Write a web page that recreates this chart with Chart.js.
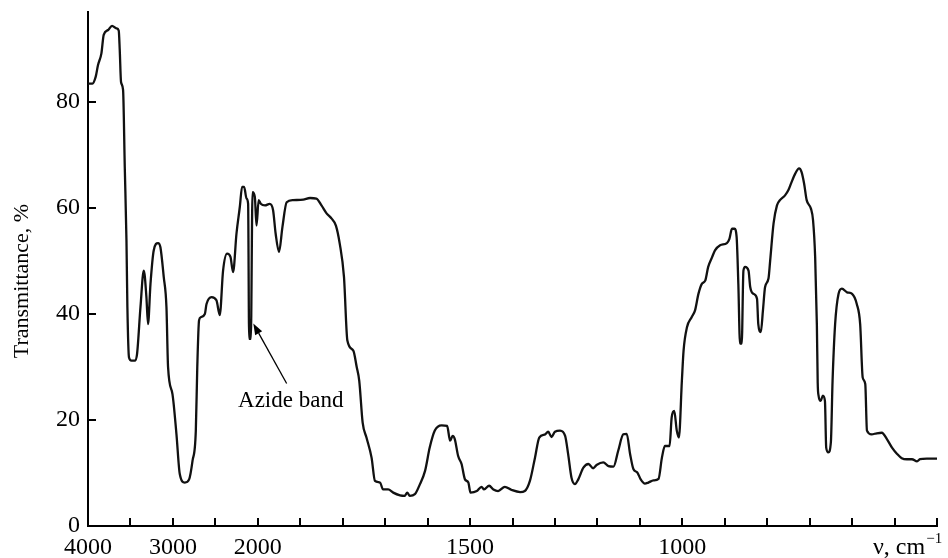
<!DOCTYPE html>
<html>
<head>
<meta charset="utf-8">
<script src="https://cdn.jsdelivr.net/npm/chart.js@4/dist/chart.umd.min.js"></script>
<style>
  html, body { margin: 0; padding: 0; background: #fff; }
  #wrap { width: 948px; height: 558px; }
</style>
</head>
<body>
<div id="wrap"><canvas id="c" width="948" height="558"></canvas></div>
<script>
// ---- Data ----
const WAVENUMBERS = [
  4000, 3948, 3909, 3882, 3842, 3815, 3764, 3717, 3665, 3638, 3626, 3611, 3587, 3567, 3547, 3536,
  3517, 3488, 3450, 3422, 3382, 3343, 3312, 3293, 3264, 3226, 3175, 3147, 3108, 3076, 3057, 3005,
  2958, 2919, 2860, 2809, 2769, 2730, 2713, 2692, 2672, 2624, 2604, 2545, 2487, 2448, 2409, 2362,
  2322, 2291, 2251, 2212, 2185, 2161, 2133, 2114, 2102, 2082, 2062, 2035, 2015, 1998, 1993, 1983,
  1972, 1964, 1958, 1950, 1942, 1932, 1917, 1893, 1877, 1862, 1850, 1838, 1826, 1816, 1807, 1797,
  1789, 1775, 1767, 1761, 1753, 1744, 1732, 1724, 1712, 1705, 1693, 1681, 1665, 1654, 1648, 1642,
  1630, 1618, 1606, 1595, 1583, 1567, 1554, 1547, 1541, 1536, 1528, 1520, 1512, 1504, 1499, 1484,
  1473, 1467, 1455, 1445, 1434, 1418, 1402, 1382, 1371, 1359, 1347, 1337, 1323, 1316, 1308, 1300,
  1288, 1276, 1269, 1261, 1253, 1245, 1233, 1221, 1210, 1202, 1186, 1174, 1162, 1151, 1139, 1131,
  1123, 1115, 1106, 1098, 1088, 1080, 1068, 1056, 1048, 1041, 1030, 1025, 1019, 1013, 1008, 1001,
  997, 989, 978, 970, 962, 954, 946, 939, 930, 923, 911, 895, 889, 883, 877, 872,
  868, 864, 860, 856, 852, 844, 840, 832, 824, 821, 815, 810, 805, 797, 793, 785,
  777, 770, 758, 750, 744, 734, 725, 719, 713, 707, 697, 692, 687, 683, 681, 679,
  674, 669, 664, 661, 656, 650, 646, 640, 632, 624, 612, 600, 589, 581, 575, 569,
  565, 554, 542, 530, 518, 506, 494, 483, 471, 459, 447, 440, 424, 400
];
const TRANSMITTANCE = [
  83.5, 83.5, 84.8, 87.0, 89.2, 92.7, 93.6, 94.4, 93.9, 93.5, 89.8, 83.8, 82.3, 67.8, 53.9, 41.3,
  31.8, 31.2, 31.2, 32.5, 41.3, 48.2, 43.2, 38.1, 45.7, 52.0, 53.4, 52.6, 47.0, 41.3, 30.0, 24.9,
  17.3, 9.8, 8.2, 8.8, 12.3, 18.0, 29.9, 38.8, 39.4, 40.0, 41.9, 43.2, 42.6, 39.8, 48.2, 51.4,
  50.8, 47.9, 55.2, 60.2, 64.0, 64.0, 61.8, 60.8, 35.3, 35.3, 63.0, 62.1, 56.7, 61.5, 60.8, 60.5,
  60.8, 59.6, 55.2, 51.7, 56.4, 61.1, 61.5, 61.6, 61.9, 61.8, 60.5, 59.0, 58.0, 56.7, 53.3, 47.0,
  35.0, 33.1, 30.0, 27.4, 19.5, 16.7, 12.9, 8.5, 8.2, 6.9, 6.9, 6.3, 5.8, 5.7, 6.3, 5.7,
  6.0, 7.9, 10.4, 14.8, 18.0, 19.0, 18.9, 16.1, 17.0, 16.4, 13.2, 11.7, 8.8, 8.2, 6.3, 6.6,
  7.4, 6.9, 7.6, 6.9, 6.6, 7.4, 6.8, 6.4, 6.6, 8.5, 12.9, 16.7, 17.3, 17.8, 16.8, 17.8,
  18.0, 17.0, 13.6, 9.1, 7.9, 8.8, 11.0, 11.7, 10.9, 11.5, 12.0, 11.3, 11.2, 14.2, 17.3, 17.4,
  13.6, 10.7, 10.1, 8.8, 8.0, 8.2, 8.6, 8.9, 12.9, 15.1, 15.1, 20.5, 21.7, 18.0, 16.7, 27.4,
  33.1, 37.5, 39.4, 40.7, 43.8, 45.7, 46.3, 48.9, 50.7, 52.0, 53.0, 53.4, 54.2, 56.1, 56.1, 54.5,
  45.7, 34.4, 34.4, 48.2, 48.9, 48.2, 45.1, 43.8, 42.9, 38.1, 36.6, 40.7, 45.1, 46.7, 50.1, 57.1,
  60.5, 61.5, 62.4, 63.4, 64.6, 66.5, 67.5, 66.8, 64.6, 61.5, 59.9, 57.7, 50.7, 38.0, 27.0, 24.6,
  23.6, 24.6, 23.6, 14.8, 13.9, 15.8, 27.4, 38.1, 43.8, 44.8, 44.1, 43.8, 41.9, 38.1, 28.0, 26.8,
  18.0, 17.3, 17.5, 17.6, 16.4, 14.8, 13.6, 12.8, 12.6, 12.6, 12.2, 12.6, 12.7, 12.7
];
// x-axis tick marks (evenly spaced on the split wavenumber scale) and the labelled ones
const X_TICK_VALUES = [4000, 3500, 3000, 2500, 2000, 1900, 1800, 1700, 1600, 1500, 1400, 1300, 1200,
                       1100, 1000, 900, 800, 700, 600, 500, 400];
const X_LABELED = [4000, 3000, 2000, 1500, 1000];
const Y_TICKS = [0, 20, 40, 60, 80];
const Y_TITLE = 'Transmittance, %';
const X_UNIT = 'ν, cm';
const X_UNIT_SUP = '−1';
const ANNOTATION_TEXT = 'Azide band';
const ANNOTATION = { text: [2233, 22.4], tail: [1932, 26.9], tip: [2053, 38.2] };

const SERIF = '"Liberation Serif", "Times New Roman", serif';

// ---- Split-scale IR axis: 4000–2000 at 500/tick, 2000–400 at 100/tick ----
const LinearScale = Chart.LinearScale || Chart.registry.getScale('linear');
function irPos(v) { return v >= 2000 ? (4000 - v) / 500 : 4 + (2000 - v) / 100; }
function irVal(p) { return p <= 4 ? 4000 - p * 500 : 2000 - (p - 4) * 100; }
class IRScale extends LinearScale {
  getPixelForValue(value) { return this.getPixelForDecimal(irPos(value) / 20); }
  getValueForPixel(pixel) { return irVal(this.getDecimalForPixel(pixel) * 20); }
}
IRScale.id = 'ir';
IRScale.defaults = {};
Chart.register(IRScale);

const overlay = {
  id: 'overlay',
  afterDraw(chart) {
    const { ctx, chartArea: a, scales: { x, y } } = chart;
    ctx.save();
    ctx.strokeStyle = '#000';
    ctx.lineWidth = 2;
    // inward tick marks
    X_TICK_VALUES.forEach(v => {
      const px = Math.round(x.getPixelForValue(v));
      ctx.beginPath(); ctx.moveTo(px, a.bottom); ctx.lineTo(px, a.bottom - 8); ctx.stroke();
    });
    Y_TICKS.forEach(v => {
      const py = Math.round(y.getPixelForValue(v));
      ctx.beginPath(); ctx.moveTo(a.left, py); ctx.lineTo(a.left + 8, py); ctx.stroke();
    });
    // y title
    ctx.fillStyle = '#000';
    ctx.save();
    ctx.translate(22, (a.top + a.bottom) / 2 + 12);
    ctx.rotate(-Math.PI / 2);
    ctx.font = '22px ' + SERIF;
    ctx.textAlign = 'center';
    ctx.textBaseline = 'middle';
    ctx.fillText(Y_TITLE, 0, 0);
    ctx.restore();
    // x unit label
    ctx.font = '24px ' + SERIF;
    ctx.textAlign = 'left';
    ctx.textBaseline = 'alphabetic';
    const ux = a.right - 64;
    ctx.fillText(X_UNIT, ux, 554);
    const w = ctx.measureText(X_UNIT).width;
    ctx.font = '15px ' + SERIF;
    ctx.fillText(X_UNIT_SUP, ux + w + 1, 543);
    // annotation
    ctx.font = '23px ' + SERIF;
    ctx.fillText(ANNOTATION_TEXT, x.getPixelForValue(ANNOTATION.text[0]), y.getPixelForValue(ANNOTATION.text[1]));
    const tx = x.getPixelForValue(ANNOTATION.tail[0]), ty = y.getPixelForValue(ANNOTATION.tail[1]);
    const hx = x.getPixelForValue(ANNOTATION.tip[0]), hy = y.getPixelForValue(ANNOTATION.tip[1]);
    const ang = Math.atan2(hy - ty, hx - tx);
    const L = 11, W = 4;
    const bx = hx - L * Math.cos(ang), by = hy - L * Math.sin(ang);
    ctx.lineWidth = 1.3;
    ctx.beginPath(); ctx.moveTo(tx, ty); ctx.lineTo(bx, by); ctx.stroke();
    ctx.beginPath();
    ctx.moveTo(hx, hy);
    ctx.lineTo(bx + W * Math.sin(ang), by - W * Math.cos(ang));
    ctx.lineTo(bx - W * Math.sin(ang), by + W * Math.cos(ang));
    ctx.closePath(); ctx.fill();
    ctx.restore();
  }
};

new Chart(document.getElementById('c'), {
  type: 'line',
  data: {
    datasets: [{
      data: WAVENUMBERS.map((w, i) => ({ x: w, y: TRANSMITTANCE[i] })),
      borderColor: '#111',
      borderWidth: 2.3,
      pointRadius: 0,
      cubicInterpolationMode: 'monotone',
      fill: false,
      borderJoinStyle: 'round',
      borderCapStyle: 'round'
    }]
  },
  options: {
    responsive: false,
    animation: false,
    devicePixelRatio: 1,
    layout: { padding: { top: 12, right: 11, left: 0, bottom: 0 } },
    plugins: { legend: { display: false }, tooltip: { enabled: false } },
    scales: {
      x: {
        type: 'ir', min: 400, max: 4000,
        grid: { display: false, drawTicks: false },
        border: { display: true, color: '#000', width: 2 },
        afterBuildTicks: s => { s.ticks = X_TICK_VALUES.map(v => ({ value: v })); },
        ticks: {
          autoSkip: false, maxRotation: 0, minRotation: 0, padding: 7, color: '#000',
          font: { family: SERIF, size: 24 },
          callback: v => X_LABELED.includes(v) ? String(v) : ''
        },
        afterFit: s => { s.height = 32; s.paddingLeft = 0; s.paddingRight = 0; }
      },
      y: {
        min: 0, max: 97,
        grid: { display: false, drawTicks: false },
        border: { display: true, color: '#000', width: 2 },
        afterBuildTicks: s => { s.ticks = Y_TICKS.map(v => ({ value: v })); },
        ticks: { padding: 8, color: '#000', font: { family: SERIF, size: 24 } },
        afterFit: s => { s.width = 88; s.paddingTop = 0; s.paddingBottom = 0; }
      }
    }
  },
  plugins: [overlay]
});
</script>
</body>
</html>
